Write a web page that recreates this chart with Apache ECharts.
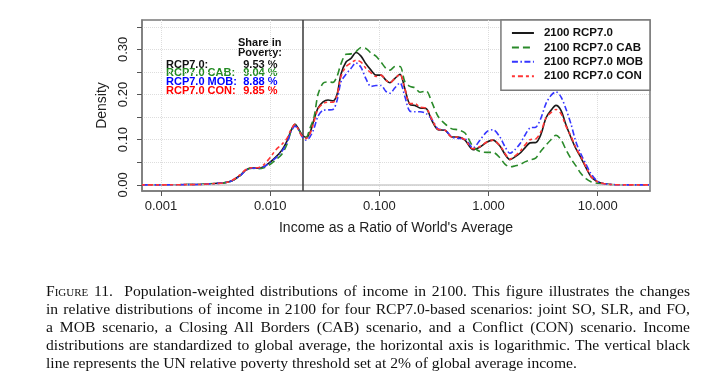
<!DOCTYPE html>
<html>
<head>
<meta charset="utf-8">
<script src="https://cdn.jsdelivr.net/npm/echarts@6/dist/echarts.min.js"></script>
<style>
  html, body { margin: 0; padding: 0; background: #fff; }
  #container { position: absolute; left: 0; top: 0; width: 718px; height: 376px; }
  #caption {
    position: absolute; left: 46px; top: 282px; width: 644px;
    font-family: "Liberation Serif", serif; font-size: 15.6px; line-height: 17.9px; color: #111;
  }
  #caption div { text-align: justify; text-align-last: justify; white-space: normal; word-spacing: -1px; }
  #caption div.last { text-align-last: left; word-spacing: 0; }
  .sc { font-variant: small-caps; }
</style>
</head>
<body>
<div id="container"></div>
<div id="caption">
  <div><span class="sc">Figure</span> 11.&nbsp; Population-weighted distributions of income in 2100. This figure illustrates the changes</div>
  <div>in relative distributions of income in 2100 for four RCP7.0-based scenarios: joint SO, SLR, and FO,</div>
  <div>a MOB scenario, a Closing All Borders (CAB) scenario, and a Conflict (CON) scenario. Income</div>
  <div>distributions are standardized to global average, the horizontal axis is logarithmic. The vertical black</div>
  <div class="last">line represents the UN relative poverty threshold set at 2% of global average income.</div>
</div>
<script>
var dom     = document.getElementById("container");
var myChart = echarts.init(dom);

// income as ratio of world average (log axis)
var incomeRatio = [0.00067, 0.001, 0.00149, 0.00228, 0.00312, 0.00386, 0.00447, 0.00529, 0.0060, 0.00681,
    0.00773, 0.00877, 0.00995, 0.0113, 0.0128, 0.01425, 0.0155, 0.01687, 0.0180, 0.01956,
    0.0213, 0.0231, 0.0252, 0.0274, 0.0305, 0.0339, 0.0376, 0.0409, 0.0445, 0.0495,
    0.0550, 0.0611, 0.0679, 0.0753, 0.0838, 0.0931, 0.1035, 0.1148, 0.125, 0.139,
    0.1545, 0.1714, 0.1906, 0.2119, 0.2355, 0.2673, 0.3034, 0.3443, 0.3991, 0.4626,
    0.525, 0.6084, 0.72, 0.834, 0.967, 1.097, 1.271, 1.412, 1.57, 1.745,
    1.939, 2.155, 2.395, 2.718, 3.02, 3.356, 3.728, 4.143, 4.604, 5.116,
    5.685, 6.317, 7.02, 7.80, 8.67, 9.63, 10.7, 11.9, 14.4, 19.7,
    30.1];

var rcp70 = [0, 0, 0.0005, 0.001, 0.003, 0.005, 0.009, 0.021, 0.033, 0.038,
    0.037, 0.040, 0.050, 0.062, 0.077, 0.097, 0.120, 0.134, 0.126, 0.111,
    0.105, 0.115, 0.145, 0.170, 0.184, 0.188, 0.186, 0.200, 0.245, 0.272,
    0.280, 0.293, 0.285, 0.268, 0.254, 0.243, 0.243, 0.232, 0.226, 0.236,
    0.245, 0.212, 0.178, 0.176, 0.170, 0.169, 0.142, 0.122, 0.121, 0.106,
    0.106, 0.099, 0.078, 0.084, 0.095, 0.099, 0.086, 0.068, 0.056, 0.062,
    0.070, 0.082, 0.093, 0.094, 0.112, 0.148, 0.165, 0.176, 0.165, 0.133,
    0.105, 0.080, 0.060, 0.038, 0.018, 0.009, 0.004, 0.002, 0.0005, 0,
    0];

var rcp70Cab = [0, 0, 0.0005, 0.001, 0.003, 0.005, 0.009, 0.020, 0.033, 0.037,
    0.036, 0.038, 0.045, 0.056, 0.068, 0.090, 0.118, 0.133, 0.125, 0.110,
    0.105, 0.125, 0.150, 0.200, 0.225, 0.228, 0.227, 0.240, 0.268, 0.289,
    0.290, 0.295, 0.304, 0.302, 0.292, 0.285, 0.272, 0.258, 0.254, 0.262,
    0.262, 0.228, 0.218, 0.215, 0.205, 0.208, 0.182, 0.152, 0.135, 0.124,
    0.122, 0.115, 0.085, 0.074, 0.072, 0.072, 0.060, 0.046, 0.040, 0.042,
    0.045, 0.051, 0.055, 0.060, 0.075, 0.088, 0.100, 0.110, 0.100, 0.078,
    0.058, 0.042, 0.025, 0.014, 0.007, 0.004, 0.002, 0.001, 0, 0,
    0];

var rcp70Mob = [0, 0, 0.0005, 0.001, 0.003, 0.005, 0.009, 0.020, 0.032, 0.037,
    0.037, 0.040, 0.050, 0.060, 0.074, 0.094, 0.117, 0.130, 0.124, 0.107,
    0.099, 0.106, 0.125, 0.152, 0.165, 0.166, 0.167, 0.186, 0.228, 0.245,
    0.258, 0.270, 0.260, 0.235, 0.218, 0.220, 0.220, 0.207, 0.203, 0.215,
    0.226, 0.195, 0.163, 0.162, 0.162, 0.158, 0.145, 0.124, 0.121, 0.106,
    0.103, 0.102, 0.082, 0.099, 0.118, 0.122, 0.106, 0.085, 0.070, 0.078,
    0.091, 0.110, 0.126, 0.128, 0.148, 0.180, 0.198, 0.206, 0.195, 0.168,
    0.135, 0.095, 0.068, 0.046, 0.025, 0.011, 0.004, 0.002, 0.0005, 0,
    0];

var rcp70Con = [0, 0, 0.0005, 0.001, 0.003, 0.005, 0.010, 0.022, 0.034, 0.038,
    0.038, 0.045, 0.060, 0.078, 0.090, 0.103, 0.122, 0.134, 0.124, 0.108,
    0.103, 0.113, 0.140, 0.168, 0.180, 0.183, 0.183, 0.198, 0.240, 0.262,
    0.270, 0.276, 0.272, 0.258, 0.248, 0.240, 0.243, 0.232, 0.226, 0.236,
    0.245, 0.212, 0.180, 0.180, 0.172, 0.170, 0.145, 0.123, 0.121, 0.106,
    0.106, 0.100, 0.080, 0.085, 0.095, 0.099, 0.087, 0.070, 0.057, 0.064,
    0.074, 0.088, 0.100, 0.102, 0.118, 0.148, 0.160, 0.167, 0.158, 0.130,
    0.108, 0.082, 0.062, 0.040, 0.019, 0.009, 0.004, 0.002, 0.0005, 0,
    0];

var seriesNames  = ['2100 RCP7.0', '2100 RCP7.0 CAB', '2100 RCP7.0 MOB', '2100 RCP7.0 CON'];
var seriesColors = ['#1a1a1a', '#2a8a2a', '#3535ff', '#ff3535'];
var seriesDash   = ['solid', [7, 4], [6, 2.5, 1.5, 2.5], [3, 3, 5, 3]];
var seriesValues = [rcp70, rcp70Cab, rcp70Mob, rcp70Con];

var povertyLabels = ['RCP7.0:', 'RCP7.0 CAB:', 'RCP7.0 MOB:', 'RCP7.0 CON:'];
var povertyShares = ['9.53 %', '9.04 %', '8.88 %', '9.85 %'];
var povertyColors = ['#111111', '#228b22', '#0000ff', '#ff0000'];

var povertyLine = 0.02;
var xTicks = [0.001, 0.01, 0.1, 1, 10];
var yTicks = [0, 0.05, 0.10, 0.15, 0.20, 0.25, 0.30, 0.35];
var yLabels = [0, 0.10, 0.20, 0.30];

var fontSans = '"Liberation Sans", Arial, sans-serif';
var noteFont = 'bold 11px ' + fontSans;

function pairs(values) {
    var out = [];
    for (var i = 0; i < values.length; i++) {
        out.push([incomeRatio[i], values[i]]);
    }
    return out;
}

var series = [];
for (var s = 0; s < seriesNames.length; s++) {
    var item = {
        name: seriesNames[s],
        type: 'line',
        data: pairs(seriesValues[s]),
        smooth: 0.3,
        symbol: 'none',
        lineStyle: { color: seriesColors[s], width: 1.6, type: seriesDash[s] },
        itemStyle: { color: seriesColors[s] },
        z: 3 + s
    };
    if (s === 0) {
        // zero line and the poverty threshold
        item.markLine = {
            silent: true,
            symbol: ['none', 'none'],
            label: { show: false },
            data: [
                { yAxis: 0, lineStyle: { color: '#cccccc', width: 1.5, type: 'solid' } },
                { xAxis: povertyLine, lineStyle: { color: '#444444', width: 1.6, type: 'solid' } }
            ]
        };
    }
    series.push(item);
}

// "Share in Poverty" annotation
var graphics = [
    { type: 'text', x: 238, y: 43.3, style: { text: 'Share in', font: noteFont, fill: '#111', textVerticalAlign: 'middle' } },
    { type: 'text', x: 238, y: 52.8, style: { text: 'Poverty:', font: noteFont, fill: '#111', textVerticalAlign: 'middle' } }
];
for (var k = 0; k < povertyLabels.length; k++) {
    graphics.push({ type: 'text', x: 166, y: 64.5 + k * 8.8,
        style: { text: povertyLabels[k], font: noteFont, fill: povertyColors[k], textAlign: 'left', textVerticalAlign: 'middle' } });
    graphics.push({ type: 'text', x: 277.5, y: 64.5 + k * 8.8,
        style: { text: povertyShares[k], font: noteFont, fill: povertyColors[k], textAlign: 'right', textVerticalAlign: 'middle' } });
}

var option = {
    animation: false,
    backgroundColor: '#fff',
    grid: {
        left: 142, top: 20, width: 508, height: 171,
        show: true, borderColor: '#7a7a7a', borderWidth: 1.5, backgroundColor: 'transparent'
    },
    legend: {
        data: seriesNames,
        orient: 'vertical',
        right: 68,
        top: 20,
        padding: [6, 7, 7, 10],
        itemWidth: 22,
        itemHeight: 10,
        itemGap: 0.4,
        backgroundColor: '#fff',
        borderColor: '#7a7a7a',
        borderWidth: 1.5,
        itemStyle: { opacity: 0, borderWidth: 0 },
        textStyle: { fontFamily: fontSans, fontSize: 11.5, fontWeight: 'bold', color: '#111', lineHeight: 14, padding: [0, 0, 0, 5] }
    },
    xAxis: {
        type: 'log',
        logBase: 10,
        min: 0.00067,
        max: 30.1,
        name: "Income as a Ratio of World's Average",
        nameLocation: 'middle',
        nameGap: 30,
        nameTextStyle: { fontFamily: fontSans, fontSize: 14, color: '#222' },
        axisLine: { show: true, onZero: false, lineStyle: { color: '#7a7a7a', width: 1.5 } },
        axisTick: { show: true, length: 5, customValues: xTicks, lineStyle: { color: '#555', width: 1 } },
        axisLabel: {
            customValues: xTicks, margin: 9,
            fontFamily: fontSans, fontSize: 13, color: '#222',
            formatter: function (v) { return (+v).toFixed(3); }
        },
        splitLine: { show: true, lineStyle: { color: '#dddddd', type: 'dotted', width: 1 } },
        minorTick: { show: false }
    },
    yAxis: {
        type: 'value',
        min: -0.0135,
        max: 0.365,
        name: 'Density',
        nameLocation: 'middle',
        nameGap: 33,
        nameTextStyle: { fontFamily: fontSans, fontSize: 14, color: '#222' },
        axisLine: { show: true, lineStyle: { color: '#7a7a7a', width: 1.5 } },
        axisTick: { show: true, length: 5, customValues: yTicks, lineStyle: { color: '#555', width: 1 } },
        axisLabel: {
            customValues: yLabels, rotate: 90, margin: 12,
            fontFamily: fontSans, fontSize: 13, color: '#222',
            formatter: function (v) { return (+v).toFixed(2); }
        },
        splitLine: { show: true, lineStyle: { color: '#dddddd', type: 'dotted', width: 1 } }
    },
    graphic: graphics,
    series: series
};

myChart.setOption(option);
</script>
</body>
</html>
